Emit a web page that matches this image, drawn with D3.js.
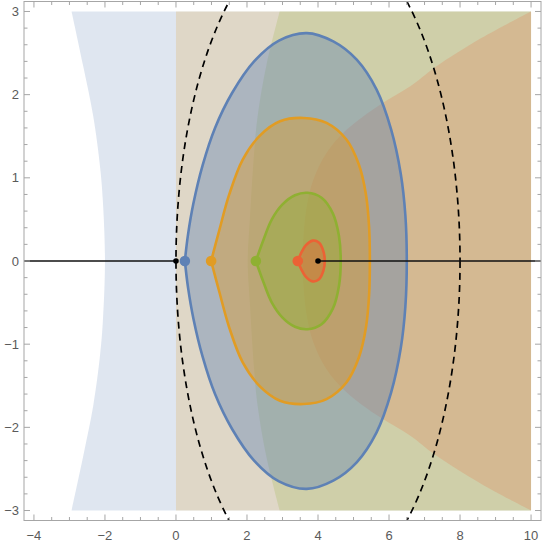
<!DOCTYPE html>
<html>
<head>
<meta charset="utf-8">
<script src="https://cdn.jsdelivr.net/npm/d3@7"></script>
<style>
  html, body { margin: 0; padding: 0; background: #fff; }
  svg { display: block; }
</style>
</head>
<body>
<svg id="chart" width="545" height="547"></svg>
<script>
// ---------- data ----------
const xTickLabels = [-4, -2, 0, 2, 4, 6, 8, 10];
const yTickLabels = [-3, -2, -1, 0, 1, 2, 3];

// background regions (upper halves, mirrored for lower half)
const regionBlueLeftEdge = [[-2.0, 0], [-2.06, 0.73], [-2.14, 1.14], [-2.33, 1.74], [-2.61, 2.34], [-2.94, 3.0]];
const regionOrangeLeftEdge = [[0, 0], [0, 3.0]];
const regionGreenLeftEdge = [[2.02, 0], [2.08, 0.5], [2.2, 1.3], [2.3, 1.74], [2.55, 2.36], [2.92, 3.0]];
const regionRedEdge = [[3.56, 0], [3.59, 0.29], [3.68, 0.65], [3.87, 0.98], [4.24, 1.30], [4.81, 1.58], [5.75, 1.88], [6.6, 2.1], [7.3, 2.33], [8.6, 2.68], [10, 3.0]];
const regionRight = 10;
const regionTop = 3;

// closed level curves (upper halves, from the left cusp to the right end)
const curveBlue = [[0.25, 0], [0.34, 0.32], [0.49, 0.69], [0.75, 1.15], [1.1, 1.6], [1.58, 2.02], [2.2, 2.4], [2.9, 2.65], [3.68, 2.74], [4.43, 2.64], [5.09, 2.42], [5.65, 2.06], [6.06, 1.58], [6.33, 1.05], [6.46, 0.55], [6.5, 0]];
const curveOrange = [[0.99, 0], [1.22, 0.37], [1.5, 0.8], [1.88, 1.22], [2.37, 1.51], [2.93, 1.68], [3.59, 1.72], [4.24, 1.66], [4.8, 1.46], [5.15, 1.16], [5.35, 0.8], [5.44, 0.4], [5.46, 0]];
const curveGreen = [[2.25, 0], [2.46, 0.25], [2.7, 0.5], [3.0, 0.68], [3.35, 0.79], [3.7, 0.82], [4.1, 0.76], [4.42, 0.57], [4.59, 0.3], [4.64, 0]];
const curveRed = [[3.43, 0], [3.53, 0.1], [3.66, 0.19], [3.85, 0.245], [4.03, 0.22], [4.15, 0.12], [4.19, 0]];

const startPoints = [[0.25, 0], [0.99, 0], [2.25, 0], [3.43, 0]];
const blackPoints = [[0, 0], [4, 0]];
const circleCenter = [4, 0];
const circleRadius = 4;
const rayLeftEnd = 0;
const rayRightStart = 4;

const palette = ["#5e81b5", "#e19c24", "#8fb032", "#eb6235"];

// ---------- layout ----------
const svg = d3.select("#chart");
const L = 24, R = 541, T = 1.5, B = 520.5;
const xDomain = [-4.28, 10.28], yDomain = [-3.12, 3.12];
const x = d3.scaleLinear().domain(xDomain).range([L, R]);
const y = d3.scaleLinear().domain(yDomain).range([B, T]);

svg.append("defs").append("clipPath").attr("id", "clip")
  .append("rect").attr("x", L).attr("y", T).attr("width", R - L).attr("height", B - T);

const plot = svg.append("g").attr("clip-path", "url(#clip)");

const mirror = pts => pts.slice().reverse().map(([a, b]) => [a, -b]);
const lineLin = d3.line().x(d => x(d[0])).y(d => y(d[1]));
const lineSmooth = d3.line().x(d => x(d[0])).y(d => y(d[1])).curve(d3.curveCatmullRom.alpha(0.5));

function regionPath(edge) {
  const full = mirror(edge).concat(edge.slice(1));
  let d = lineSmooth(full);
  d += "L" + x(regionRight) + "," + y(regionTop) + "L" + x(regionRight) + "," + y(-regionTop) + "Z";
  return d;
}

const regionEdges = [regionBlueLeftEdge, regionOrangeLeftEdge, regionGreenLeftEdge];
regionEdges.forEach((edge, i) => {
  plot.append("path").attr("d", regionPath(edge))
    .attr("fill", palette[i]).attr("fill-opacity", 0.2).attr("stroke", "none");
});
{
  const full = mirror(regionRedEdge).concat(regionRedEdge.slice(1));
  plot.append("path").attr("d", lineSmooth(full) + "Z")
    .attr("fill", palette[3]).attr("fill-opacity", 0.2).attr("stroke", "none");
}

// closed curves
const curves = [curveBlue, curveOrange, curveGreen, curveRed];
curves.forEach((c, i) => {
  const full = c.concat(mirror(c).slice(1));
  const d = lineSmooth(full);
  plot.append("path").attr("d", d + "Z")
    .attr("fill", palette[i]).attr("fill-opacity", 0.4).attr("stroke", "none");
  plot.append("path").attr("d", d)
    .attr("fill", "none").attr("stroke", palette[i]).attr("stroke-width", 2.6)
    .attr("stroke-linejoin", "round");
});

// dashed circle |z - 4| = 4
plot.append("ellipse")
  .attr("cx", x(circleCenter[0])).attr("cy", y(circleCenter[1]))
  .attr("rx", x(circleCenter[0] + circleRadius) - x(circleCenter[0]))
  .attr("ry", y(circleCenter[1]) - y(circleCenter[1] + circleRadius))
  .attr("fill", "none").attr("stroke", "#000").attr("stroke-width", 1.7)
  .attr("stroke-dasharray", "7,5");

// rays on the real axis
plot.append("path").attr("d", lineLin([[xDomain[0], 0], [rayLeftEnd, 0]]))
  .attr("stroke", "#111").attr("stroke-width", 1.6);
plot.append("path").attr("d", lineLin([[rayRightStart, 0], [xDomain[1], 0]]))
  .attr("stroke", "#111").attr("stroke-width", 1.6);

// points
plot.selectAll(".sp").data(startPoints).enter().append("circle")
  .attr("cx", d => x(d[0])).attr("cy", d => y(d[1])).attr("r", 5.3)
  .attr("fill", (d, i) => palette[i]);
plot.selectAll(".bp").data(blackPoints).enter().append("circle")
  .attr("cx", d => x(d[0])).attr("cy", d => y(d[1])).attr("r", 2.8)
  .attr("fill", "#000");

// ---------- frame & ticks ----------
const frameColor = "#a6a6a6";
const fg = svg.append("g");
fg.append("rect").attr("x", L).attr("y", T).attr("width", R - L).attr("height", B - T)
  .attr("fill", "none").attr("stroke", frameColor).attr("stroke-width", 1);

const xMinor = d3.range(-4, 10.001, 0.5);
const yMinor = d3.range(-3, 3.001, 0.2).map(v => Math.round(v * 10) / 10);
const isMajorX = v => xTickLabels.some(t => Math.abs(t - v) < 1e-6);
const isMajorY = v => yTickLabels.some(t => Math.abs(t - v) < 1e-6);

xMinor.forEach(v => {
  const len = isMajorX(v) ? 6 : 3.5;
  fg.append("line").attr("x1", x(v)).attr("x2", x(v)).attr("y1", B).attr("y2", B - len)
    .attr("stroke", frameColor);
  fg.append("line").attr("x1", x(v)).attr("x2", x(v)).attr("y1", T).attr("y2", T + len)
    .attr("stroke", frameColor);
});
yMinor.forEach(v => {
  const len = isMajorY(v) ? 6 : 3.5;
  fg.append("line").attr("y1", y(v)).attr("y2", y(v)).attr("x1", L).attr("x2", L + len)
    .attr("stroke", frameColor);
  fg.append("line").attr("y1", y(v)).attr("y2", y(v)).attr("x1", R).attr("x2", R - len)
    .attr("stroke", frameColor);
});

const fmt = v => (v < 0 ? "\u2212" + Math.abs(v) : String(v));
fg.selectAll(".xl").data(xTickLabels).enter().append("text")
  .attr("x", d => x(d)).attr("y", B + 19)
  .attr("text-anchor", "middle")
  .attr("font-family", "Liberation Sans, Arial, sans-serif").attr("font-size", 13)
  .attr("fill", "#5a5a5a").text(fmt);
fg.selectAll(".yl").data(yTickLabels).enter().append("text")
  .attr("x", L - 5).attr("y", d => y(d) + 4.5)
  .attr("text-anchor", "end")
  .attr("font-family", "Liberation Sans, Arial, sans-serif").attr("font-size", 13)
  .attr("fill", "#5a5a5a").text(fmt);
</script>
</body>
</html>
